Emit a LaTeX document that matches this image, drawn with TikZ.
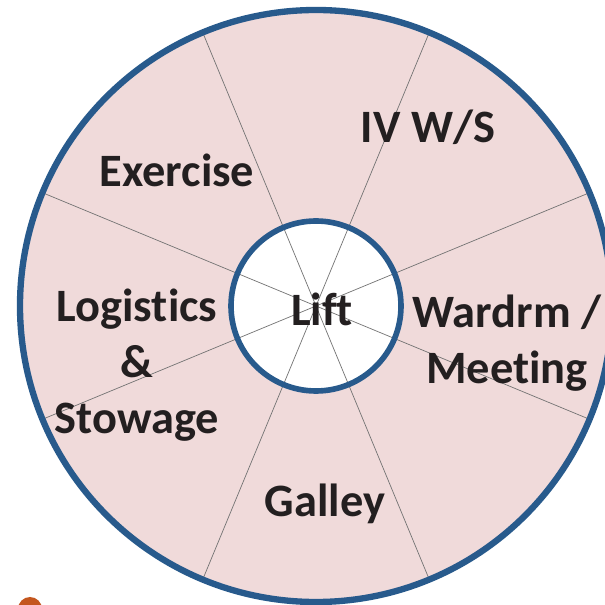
\documentclass[tikz,border=0pt]{standalone}
\usepackage{fontspec}
\setmainfont[Ligatures=NoCommon]{Carlito}
\usepackage{xcolor}
\usetikzlibrary{calc}
\definecolor{ringblue}{HTML}{285A8C}
\definecolor{roompink}{HTML}{F0DADA}
\definecolor{blobred}{HTML}{C4561E}
\definecolor{inkblack}{HTML}{231F20}
\tikzset{
  room/.style={font=\bfseries\fontsize{33}{40}\selectfont, text=inkblack, align=center},
  divider/.style={draw=black!55, line width=0.5pt}
}
\begin{document}
\begin{tikzpicture}[x=0.025cm,y=0.025cm]
  \useasboundingbox (0,0) rectangle (605,605);
  \clip (0,0) rectangle (605,605);

  % Wheel
  \coordinate (hub) at (316,299);
  \fill[roompink] (hub) circle (296);
  \fill[white] (hub) circle (85);
  \draw[divider] ($(hub)+(22.5:296)$) -- ($(hub)+(202.5:296)$);
  \draw[divider] ($(hub)+(67.5:296)$) -- ($(hub)+(247.5:296)$);
  \draw[divider] ($(hub)+(112.5:296)$) -- ($(hub)+(292.5:296)$);
  \draw[divider] ($(hub)+(157.5:296)$) -- ($(hub)+(337.5:296)$);
  \draw[ringblue, line width=4pt] (hub) circle (85);
  \draw[ringblue, line width=4.5pt] (hub) circle (296);

  % Nodes
  \node[room] (lift) at (322,296) {Lift};
  \node[room] (ivws) at (428,478) {IV W/S};
  \node[room] (exercise) at (177,435) {Exercise};
  \node[room] (logistics) at (137,240) {Logistics\\\&\\Stowage};
  \node[room] (wardroom) at (507,262) {Wardrm /\\Meeting};
  \node[room] (galley) at (325,101) {Galley};

  % Partly hidden blob
  \fill[blobred] (30,-4) circle (12);
\end{tikzpicture}
\end{document}
